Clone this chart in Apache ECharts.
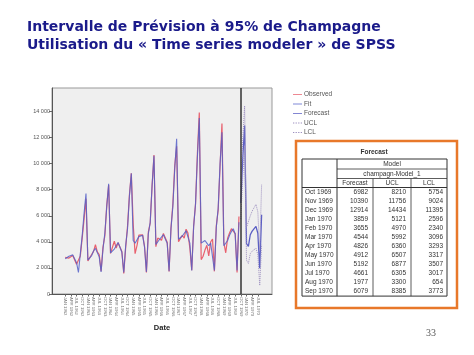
<!DOCTYPE html>
<html>
<head>
<meta charset="utf-8">
<script src="https://cdn.jsdelivr.net/npm/echarts@6/dist/echarts.min.js"></script>
<style>
  html, body { margin: 0; padding: 0; background: #fff; }
  #chart { width: 474px; height: 355px; }
</style>
</head>
<body>
<div id="chart"></div>
<script>
// données observées (ventes de champagne), à partir de janvier
var observed = [
  2815, 2672, 2755, 2721, 2946, 3036, 2282, 2212, 2922, 4301, 5764, 7312,
  2541, 2475, 3031, 3266, 3776, 3230, 3028, 1759, 3595, 4474, 6838, 8357,
  3113, 3006, 4047, 3523, 3937, 3986, 3260, 1573, 3528, 5211, 7614, 9254,
  5375, 3088, 3718, 4514, 4520, 4539, 3663, 1643, 4739, 5428, 8314, 10651,
  3633, 4292, 4154, 4121, 4647, 4753, 3965, 1723, 5048, 6922, 9858, 11331,
  4016, 3957, 4510, 4276, 4968, 4677, 3523, 1821, 5222, 6872, 10803, 13916,
  2639, 2899, 3370, 3740, 2927, 3986, 4217, 1738, 5221, 6424, 9842, 13076,
  3934, 3162, 4286, 4676, 5010, 4874, 4633, 1659, 5951
];
// valeurs ajustées du modèle
var fitted = [
  2700, 2650, 2900, 2950, 3000, 2950, 2400, 1650, 3100, 4500, 6200, 7700,
  2600, 2700, 2950, 3300, 3500, 3400, 2850, 1700, 3450, 4700, 6700, 8450,
  3150, 3050, 3450, 3700, 3950, 3900, 3200, 1650, 3700, 5000, 7500, 9250,
  4100, 3900, 3800, 4400, 4550, 4500, 3600, 1700, 4600, 5500, 8300, 10600,
  3800, 3900, 4200, 4300, 4550, 4700, 3900, 1750, 5000, 6700, 9600, 11900,
  4200, 4150, 4450, 4500, 4850, 4850, 3900, 1800, 5150, 6900, 10500, 13500,
  3900, 3800, 4100, 3900, 3700, 3900, 4050, 1800, 5100, 6600, 10000, 12400,
  3700, 3600, 4100, 4500, 4800, 5000, 4600, 1800, 5500
];
// prévisions (tableau SPSS)
var fcDates = ['Oct 1969', 'Nov 1969', 'Dec 1969', 'Jan 1970', 'Feb 1970', 'Mar 1970',
  'Apr 1970', 'May 1970', 'Jun 1970', 'Jul 1970', 'Aug 1970', 'Sep 1970'];
var forecast = [6982, 10390, 12914, 3859, 3655, 4544, 4826, 4912, 5192, 4661, 1977, 6079];
var ucl = [8210, 11756, 14434, 5121, 4970, 5992, 6360, 6507, 6877, 6305, 3300, 8385];
var lcl = [5754, 9024, 11395, 2596, 2340, 3096, 3293, 3317, 3507, 3017, 654, 3773];
var monthNames = ['JAN', 'FEB', 'MAR', 'APR', 'MAY', 'JUN', 'JUL', 'AUG', 'SEP', 'OCT', 'NOV', 'DEC'];
var startYear = 1962;
var yTicks = [0, 2000, 4000, 6000, 8000, 10000, 12000, 14000];

var nObs = observed.length;
var nAll = nObs + forecast.length;
var dateLabels = [];
for (var i = 0; i < nAll; i++) {
  dateLabels.push(monthNames[i % 12] + ' ' + (startYear + Math.floor(i / 12)));
}
var xTicks = [];
for (var i = 0; i < nAll; i += 3) xTicks.push(i);

function pairs(arr, offset) {
  return arr.map(function (v, i) { return [i + offset, v]; });
}

// icônes de légende : trait plein ou pointillé
var solidIcon = 'path://M0,0h12v1h-12z';
var dotIcon = 'path://M0,0h1.5v1h-1.5zM3,0h1.5v1h-1.5zM6,0h1.5v1h-1.5zM9,0h1.5v1h-1.5z';

// tableau des prévisions, dessiné en éléments graphiques
var tbl = { x0: 302, x1: 337, x2: 373, x3: 411, x4: 447, y0: 159, y1: 169, y2: 178.5, y3: 187.5, row: 9.05 };
var graphics = [];
function line(x1, y1, x2, y2, w) {
  graphics.push({ type: 'line', shape: { x1: x1, y1: y1, x2: x2, y2: y2 },
    style: { stroke: '#333', lineWidth: w || 0.8 }, silent: true });
}
function txt(x, y, s, align, bold) {
  graphics.push({ type: 'text', x: x, y: y, silent: true,
    style: { text: s, fill: '#333', font: (bold ? 'bold ' : '') + '6.5px "Liberation Sans", Arial, sans-serif',
      textAlign: align || 'left', textVerticalAlign: 'middle' } });
}
graphics.push({ type: 'rect', shape: { x: 296, y: 141, width: 161, height: 167 },
  style: { fill: '#fff', stroke: '#e8782a', lineWidth: 2.5 }, silent: true });
txt(374, 152, 'Forecast', 'center', true);
var yEnd = tbl.y3 + tbl.row * fcDates.length;
line(tbl.x0, tbl.y0, tbl.x4, tbl.y0, 1);
line(tbl.x0, yEnd, tbl.x4, yEnd, 1);
line(tbl.x0, tbl.y0, tbl.x0, yEnd, 1);
line(tbl.x4, tbl.y0, tbl.x4, yEnd, 1);
line(tbl.x1, tbl.y0, tbl.x1, yEnd, 1);
line(tbl.x2, tbl.y2, tbl.x2, yEnd);
line(tbl.x3, tbl.y2, tbl.x3, yEnd);
line(tbl.x1, tbl.y1, tbl.x4, tbl.y1);
line(tbl.x1, tbl.y2, tbl.x4, tbl.y2);
line(tbl.x0, tbl.y3, tbl.x4, tbl.y3, 1);
txt((tbl.x1 + tbl.x4) / 2, (tbl.y0 + tbl.y1) / 2, 'Model', 'center');
txt((tbl.x1 + tbl.x4) / 2, (tbl.y1 + tbl.y2) / 2, 'champagn-Model_1', 'center');
txt((tbl.x1 + tbl.x2) / 2, (tbl.y2 + tbl.y3) / 2, 'Forecast', 'center');
txt((tbl.x2 + tbl.x3) / 2, (tbl.y2 + tbl.y3) / 2, 'UCL', 'center');
txt((tbl.x3 + tbl.x4) / 2, (tbl.y2 + tbl.y3) / 2, 'LCL', 'center');
fcDates.forEach(function (d, i) {
  var yc = tbl.y3 + tbl.row * (i + 0.5);
  txt(tbl.x0 + 3, yc, d, 'left');
  txt(tbl.x2 - 5, yc, String(forecast[i]), 'right');
  txt(tbl.x3 - 5, yc, String(ucl[i]), 'right');
  txt(tbl.x4 - 4, yc, String(lcl[i]), 'right');
});
graphics.push({ type: 'text', x: 431, y: 333, silent: true,
  style: { text: '33', fill: '#555', font: '10px "Liberation Serif", serif', textAlign: 'center', textVerticalAlign: 'middle' } });

var chart = echarts.init(document.getElementById('chart'));
var option = {
  animation: false,
  backgroundColor: '#fff',
  title: {
    text: 'Intervalle de Prévision à 95% de Champagne\nUtilisation du « Time series modeler » de SPSS',
    left: 22, top: 14,
    textStyle: { fontFamily: 'DejaVu Sans', fontSize: 14, fontWeight: 'bold', color: '#1a1a8a', lineHeight: 17.5 }
  },
  legend: {
    orient: 'vertical', left: 293, top: 91, padding: 0,
    itemWidth: 9, itemHeight: 6, itemGap: 2.5, symbolKeepAspect: true,
    textStyle: { fontSize: 6.5, color: '#555', fontFamily: 'Liberation Sans', padding: [0, 0, 0, -3] },
    data: [
      { name: 'Observed', icon: solidIcon },
      { name: 'Fit', icon: solidIcon },
      { name: 'Forecast', icon: solidIcon },
      { name: 'UCL', icon: dotIcon },
      { name: 'LCL', icon: dotIcon }
    ]
  },
  grid: {
    left: 52, right: 202, top: 88, bottom: 61,
    show: true, backgroundColor: '#efefef', borderColor: '#999', borderWidth: 1
  },
  xAxis: {
    type: 'value', min: -7, max: 109.5,
    name: 'Date', nameLocation: 'middle', nameGap: 23,
    nameTextStyle: { fontSize: 7.5, fontWeight: 'bold', color: '#222', fontFamily: 'Liberation Sans' },
    axisLine: { onZero: false, lineStyle: { color: '#555' } },
    axisTick: { customValues: xTicks, length: 2.5, lineStyle: { color: '#666' } },
    axisLabel: {
      customValues: xTicks, rotate: -90, fontSize: 4.2, color: '#777', margin: 3,
      fontFamily: 'Liberation Sans',
      formatter: function (v) { return dateLabels[v] || ''; }
    },
    splitLine: { show: false }
  },
  yAxis: {
    type: 'value', min: 0, max: 15800,
    axisLine: { show: true, onZero: false, lineStyle: { color: '#555' } },
    axisTick: { show: true, customValues: yTicks, length: 3, lineStyle: { color: '#666' } },
    axisLabel: {
      customValues: yTicks, fontSize: 5.5, color: '#555', margin: 2, fontFamily: 'Liberation Sans',
      formatter: function (v) { return String(v).replace(/\B(?=(\d{3})+(?!\d))/g, ' '); }
    },
    splitLine: { show: false }
  },
  series: [
    { name: 'Observed', type: 'line', symbol: 'none', data: pairs(observed, 0),
      lineStyle: { color: '#e8606e', width: 1.2 }, itemStyle: { color: '#e8606e' } },
    { name: 'Fit', type: 'line', symbol: 'none', data: pairs(fitted, 0),
      lineStyle: { color: '#5560c8', width: 1.1, opacity: 0.85 }, itemStyle: { color: '#5560c8' },
      markLine: {
        silent: true, symbol: 'none', label: { show: false },
        lineStyle: { color: '#333', width: 1.5, type: 'solid' },
        data: [{ xAxis: nObs }]
      } },
    { name: 'Forecast', type: 'line', symbol: 'none', data: pairs(forecast, nObs),
      lineStyle: { color: '#5a5ec4', width: 1.3 }, itemStyle: { color: '#5a5ec4' } },
    { name: 'UCL', type: 'line', symbol: 'none', data: pairs(ucl, nObs),
      lineStyle: { color: '#9d90c0', width: 1, type: 'dotted' }, itemStyle: { color: '#9d90c0' } },
    { name: 'LCL', type: 'line', symbol: 'none', data: pairs(lcl, nObs),
      lineStyle: { color: '#9d90c0', width: 1, type: 'dotted' }, itemStyle: { color: '#9d90c0' } }
  ],
  graphic: graphics
};
chart.setOption(option);
</script>
</body>
</html>
